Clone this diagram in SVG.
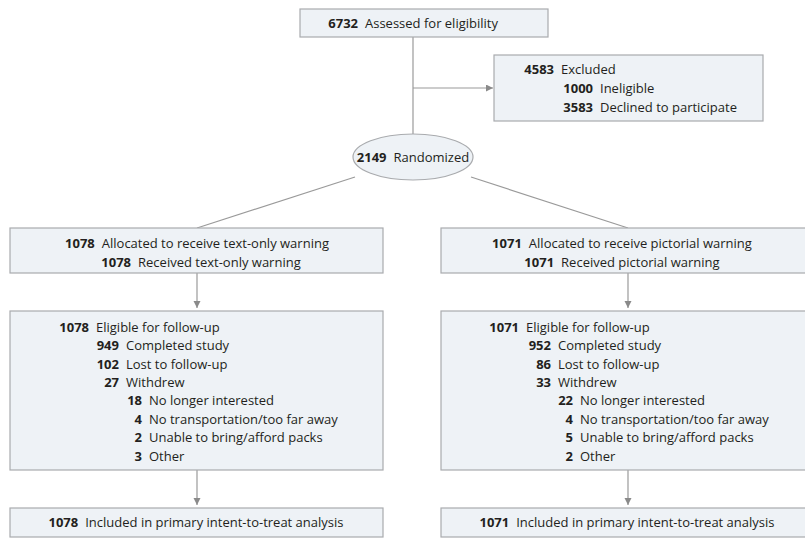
<svg xmlns="http://www.w3.org/2000/svg" width="805" height="538" viewBox="0 0 805 538">
<style>
.box{fill:#eef2f6;stroke:#a9abae;stroke-width:1.2}
.ln{stroke:#9a9a9a;stroke-width:1.2;fill:none}
text{font-family:"Open Sans","Liberation Sans",sans-serif;font-size:13px;fill:#231f20}
.b{font-weight:bold}
.r{text-anchor:end}
.m{text-anchor:middle}
</style>
<defs>
<marker id="ah" markerUnits="userSpaceOnUse" markerWidth="8" markerHeight="8" refX="7" refY="3.5" orient="auto">
<path d="M0,0 L7,3.5 L0,7 Z" fill="#8a8a8a"/>
</marker>
</defs>
<rect width="805" height="538" fill="#ffffff"/>
<g id="connectors">
<line class="ln" x1="413" y1="37" x2="413" y2="134"/>
<line class="ln" x1="413" y1="88" x2="493" y2="88" marker-end="url(#ah)"/>
<line class="ln" x1="355" y1="177" x2="197" y2="228"/>
<line class="ln" x1="471" y1="177" x2="628" y2="228"/>
<line class="ln" x1="197" y1="273" x2="197" y2="308" marker-end="url(#ah)"/>
<line class="ln" x1="628" y1="273" x2="628" y2="308" marker-end="url(#ah)"/>
<line class="ln" x1="197" y1="470" x2="197" y2="505" marker-end="url(#ah)"/>
<line class="ln" x1="628" y1="470" x2="628" y2="505" marker-end="url(#ah)"/>
</g>
<g id="assessed">
<rect class="box" x="300" y="9" width="248" height="28"/>
<text x="358" y="28" class="b r">6732</text>
<text x="365" y="28">Assessed for eligibility</text>
</g>
<g id="excluded">
<rect class="box" x="494" y="55" width="269" height="66"/>
<text x="554" y="74" class="b r">4583</text><text x="561" y="74">Excluded</text>
<text x="593" y="93" class="b r">1000</text><text x="600" y="93">Ineligible</text>
<text x="593" y="112" class="b r">3583</text><text x="600" y="112">Declined to participate</text>
</g>
<g id="randomized">
<ellipse class="box" cx="413" cy="157" rx="60" ry="23"/>
<text x="413" y="162" class="m"><tspan class="b">2149</tspan><tspan dx="7">Randomized</tspan></text>
</g>
<g id="alloc-text">
<rect class="box" x="10" y="228" width="373" height="45"/>
<text x="197" y="248" class="m"><tspan class="b">1078</tspan><tspan dx="7">Allocated to receive text-only warning</tspan></text>
<text x="201" y="267" class="m"><tspan class="b">1078</tspan><tspan dx="7">Received text-only warning</tspan></text>
</g>
<g id="alloc-pict">
<rect class="box" x="441" y="228" width="373" height="45"/>
<text x="622" y="248" class="m"><tspan class="b">1071</tspan><tspan dx="7">Allocated to receive pictorial warning</tspan></text>
<text x="622" y="267" class="m"><tspan class="b">1071</tspan><tspan dx="7">Received pictorial warning</tspan></text>
</g>
<g id="followup-text">
<rect class="box" x="10" y="311" width="373" height="159"/>
<text x="89" y="332" class="b r">1078</text><text x="96" y="332">Eligible for follow-up</text>
<text x="119" y="350" class="b r">949</text><text x="126" y="350">Completed study</text>
<text x="119" y="369" class="b r">102</text><text x="126" y="369">Lost to follow-up</text>
<text x="119" y="387" class="b r">27</text><text x="126" y="387">Withdrew</text>
<text x="142" y="405" class="b r">18</text><text x="149" y="405">No longer interested</text>
<text x="142" y="424" class="b r">4</text><text x="149" y="424">No transportation/too far away</text>
<text x="142" y="442" class="b r">2</text><text x="149" y="442">Unable to bring/afford packs</text>
<text x="142" y="461" class="b r">3</text><text x="149" y="461">Other</text>
</g>
<g id="followup-pict">
<rect class="box" x="441" y="311" width="373" height="159"/>
<text x="519" y="332" class="b r">1071</text><text x="526" y="332">Eligible for follow-up</text>
<text x="551" y="350" class="b r">952</text><text x="558" y="350">Completed study</text>
<text x="551" y="369" class="b r">86</text><text x="558" y="369">Lost to follow-up</text>
<text x="551" y="387" class="b r">33</text><text x="558" y="387">Withdrew</text>
<text x="573" y="405" class="b r">22</text><text x="580" y="405">No longer interested</text>
<text x="573" y="424" class="b r">4</text><text x="580" y="424">No transportation/too far away</text>
<text x="573" y="442" class="b r">5</text><text x="580" y="442">Unable to bring/afford packs</text>
<text x="573" y="461" class="b r">2</text><text x="580" y="461">Other</text>
</g>
<g id="itt-text">
<rect class="box" x="10" y="508" width="373" height="29"/>
<text x="196" y="527" class="m"><tspan class="b">1078</tspan><tspan dx="7">Included in primary intent-to-treat analysis</tspan></text>
</g>
<g id="itt-pict">
<rect class="box" x="441" y="508" width="373" height="29"/>
<text x="627" y="527" class="m"><tspan class="b">1071</tspan><tspan dx="7">Included in primary intent-to-treat analysis</tspan></text>
</g>
</svg>
